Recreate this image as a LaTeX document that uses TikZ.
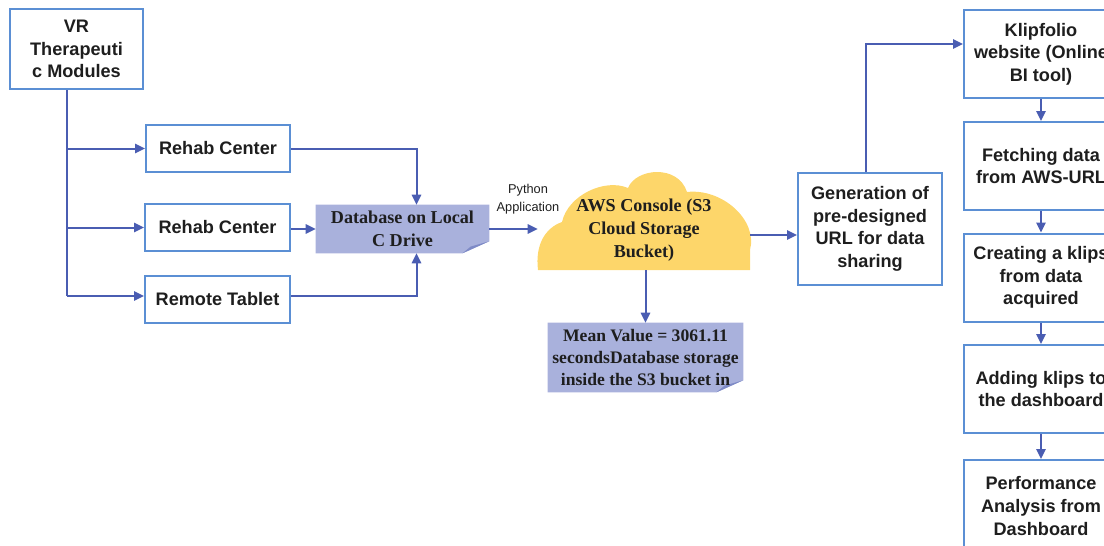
\documentclass[tikz,border=0pt]{standalone}
\usepackage{fontspec}
\setmainfont{Liberation Sans}
\newfontfamily\timesfont{Liberation Serif}
\usetikzlibrary{arrows.meta,backgrounds}
\definecolor{boxblue}{HTML}{5B8FD4}
\definecolor{arrowblue}{HTML}{4A5DB2}
\definecolor{notefill}{HTML}{A9B1DC}
\definecolor{notefold}{HTML}{7E8AC6}
\definecolor{cloudfill}{HTML}{FDD66A}
\definecolor{inkgray}{HTML}{1E1E1E}
\tikzset{
  box/.style={draw=boxblue,line width=1.5pt,align=center,text=inkgray,font=\bfseries\fontsize{13.6}{17}\selectfont,inner sep=2pt},
  stepbox/.style={box,minimum width=115.5pt,minimum height=66pt},
  note/.style={align=center,text=inkgray,font=\timesfont\bfseries\fontsize{13.6}{17.3}\selectfont,inner sep=2pt},
  arr/.style={draw=arrowblue,line width=1.5pt,-{Triangle[length=7.5pt,width=7pt]}},
  link/.style={draw=arrowblue,line width=1.5pt}
}
\begin{document}
\begin{tikzpicture}[x=0.75pt,y=-0.75pt]
\useasboundingbox (0,0) rectangle (1104,546);
\clip (0,0) rectangle (1104,546);
% sources
\node at (76.5,49) [box,minimum width=99.75pt,minimum height=60pt] (vr) {VR\\Therapeuti\\c Modules};
\node at (218,148.5) [box,minimum width=108pt,minimum height=35.25pt] (rehab1) {Rehab Center};
\node at (217.5,227.5) [box,minimum width=108.75pt,minimum height=35.25pt] (rehab2) {Rehab Center};
\node at (217.5,299.5) [box,minimum width=108.75pt,minimum height=35.25pt] (tablet) {Remote Tablet};
\coordinate (trunk) at (67,296);
% storage
\node at (402.5,229) [note,minimum width=129.75pt,minimum height=36pt] (db) {Database on Local\\C Drive};
\node at (644,230) [note,minimum width=159pt,minimum height=60pt] (aws) {AWS Console (S3\\Cloud Storage\\Bucket)};
\node at (645.5,357.5) [note,font=\timesfont\bfseries\fontsize{13.2}{16.2}\selectfont,minimum width=146.25pt,minimum height=51.75pt] (mean) {Mean Value = 3061.11\\secondsDatabase storage\\inside the S3 bucket in};
\node at (528,199) [align=center,text=inkgray,font=\fontsize{9.6}{13.5}\selectfont] (py) {Python\\Application};
\node at (870,229) [box,minimum width=108pt,minimum height=84pt] (gen) {Generation of\\pre-designed\\URL for data\\sharing};
% Klipfolio steps
\node at (1041,54) [stepbox] (klip) {Klipfolio\\website (Online\\BI tool)};
\node at (1041,166) [stepbox] (fetch) {Fetching data\\from AWS-URL};
\node at (1041,277.5) [stepbox] (klips) {Creating a klips\\from data\\acquired};
\node at (1041,389) [stepbox] (dash) {Adding klips to\\the dashboard};
\node at (1041,506) [stepbox,minimum height=69pt] (perf) {Performance\\Analysis from\\Dashboard};
\begin{scope}[on background layer]
\fill[notefill] (db.north west) -- (db.north east) -- ([yshift=9pt]db.south east) -- ([xshift=-20pt]db.south east) -- (db.south west) -- cycle;
\fill[notefold] ([yshift=9pt]db.south east) -- ([xshift=-20pt]db.south east) -- ([xshift=-14pt,yshift=5pt]db.south east) -- cycle;
\fill[notefill] (mean.north west) -- (mean.north east) -- ([yshift=9pt]mean.south east) -- ([xshift=-20pt]mean.south east) -- (mean.south west) -- cycle;
\fill[notefold] ([yshift=9pt]mean.south east) -- ([xshift=-20pt]mean.south east) -- ([xshift=-14pt,yshift=5pt]mean.south east) -- cycle;
\fill[cloudfill] (538,270) .. controls (535,245) and (545,228) .. (562,222)
  .. controls (568,195) and (605,178) .. (628,188)
  .. controls (636,168) and (678,164) .. (687,192)
  .. controls (722,188) and (758,220) .. (750,250)
  -- (750,270) -- cycle;
\end{scope}
\draw[link] (vr.south -| trunk) -- (trunk);
\draw[arr] (vr.south -| trunk) |- (rehab1.west);
\draw[arr] (vr.south -| trunk) |- (rehab2.west);
\draw[arr] (trunk) -- (trunk -| tablet.west);
\draw[arr] (rehab1.east) -| ([xshift=10.5pt]db.north);
\draw[arr] (rehab2.east |- db.west) -- (db.west);
\draw[arr] (tablet.east |- trunk) -| ([xshift=10.5pt]db.south);
\draw[arr] (db.east) -- (aws.west |- db.east);
\draw[arr] (aws.south -| mean.north) -- (mean.north);
\draw[arr] ([yshift=-4.5pt]gen.west -| aws.east) -- ([yshift=-4.5pt]gen.west);
\draw[arr] ([xshift=-3pt]gen.north) |- ([yshift=7.5pt]klip.west);
\draw[arr] (klip) -- (fetch);
\draw[arr] (fetch) -- (klips);
\draw[arr] (klips) -- (dash);
\draw[arr] (dash) -- (perf);
\end{tikzpicture}
\end{document}
